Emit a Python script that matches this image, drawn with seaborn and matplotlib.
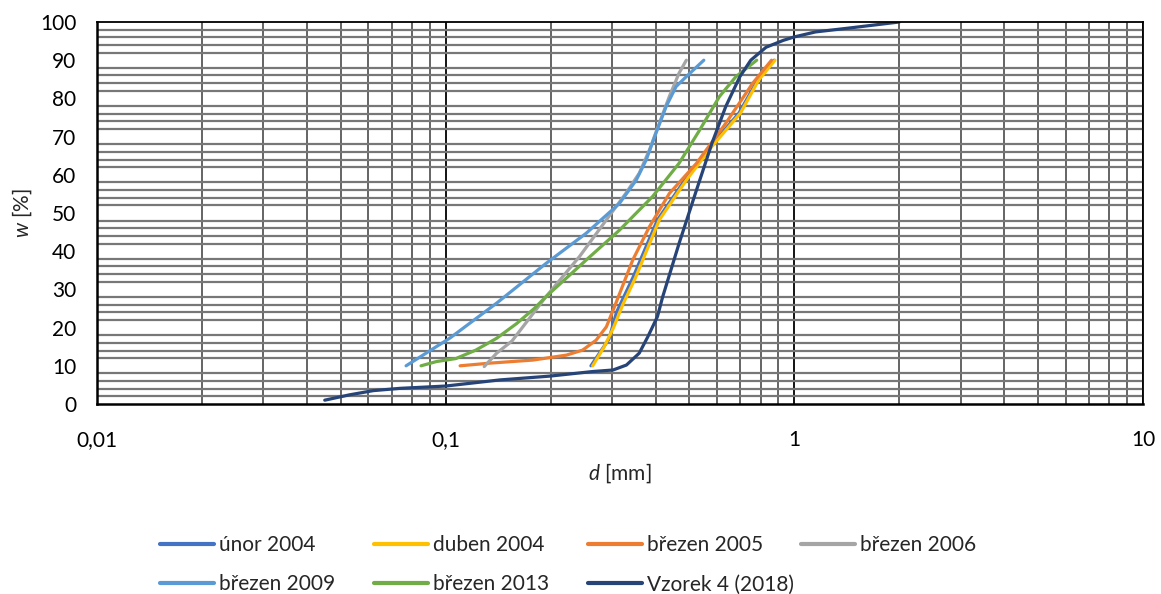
import numpy as np
import pandas as pd
import matplotlib
matplotlib.use("Agg")
import matplotlib.pyplot as plt
import seaborn as sns
from matplotlib.ticker import FixedLocator, FuncFormatter

# grain size curves, d [mm] and w [%]
unor_2004_d = [0.261, 0.294, 0.309, 0.344, 0.405, 0.485, 0.574, 0.693, 0.785, 0.875]
unor_2004_w = [10, 17, 24, 33, 48.2, 58.6, 67.4, 76.1, 84.8, 90]
duben_2004_d = [0.264, 0.285, 0.303, 0.322, 0.35, 0.41, 0.49, 0.58, 0.70, 0.79, 0.88]
duben_2004_w = [10, 15, 20, 26, 33, 48.2, 58.6, 67.4, 76.1, 84.8, 90]
brezen_2005_d = [0.11, 0.134, 0.178, 0.222, 0.247, 0.27, 0.289, 0.305, 0.344, 0.384,
                 0.438, 0.524, 0.636, 0.76, 0.86]
brezen_2005_w = [10, 10.7, 11.5, 12.8, 14.1, 16.7, 20.2, 25.5, 37.7, 46.4,
                 55.1, 63, 73.5, 84, 90]
brezen_2006_d = [0.129, 0.14, 0.155, 0.194, 0.242, 0.289, 0.329, 0.359, 0.384, 0.41,
                 0.438, 0.467, 0.49]
brezen_2006_w = [9.8, 13.3, 16.5, 28.1, 38.6, 48.2, 55.2, 60.4, 66.5, 73.5,
                 80.5, 86.6, 90]
brezen_2009_d = [0.077, 0.103, 0.14, 0.194, 0.253, 0.315, 0.352, 0.376, 0.401, 0.429,
                 0.458, 0.49, 0.55]
brezen_2009_w = [10, 17.3, 26.4, 36.8, 44.7, 52.5, 58.6, 63.9, 70.9, 77.9,
                 83.1, 85.7, 90]
brezen_2013_d = [0.085, 0.094, 0.107, 0.122, 0.14, 0.16, 0.18, 0.194, 0.253, 0.315,
                 0.392, 0.467, 0.535, 0.61, 0.68, 0.78]
brezen_2013_w = [10, 11.1, 11.9, 14.1, 17.2, 21.1, 25.1, 28.1, 37.7, 45.5,
                 54.3, 63, 71.7, 80.5, 85.7, 90]
vzorek_d = [0.045, 0.053, 0.062, 0.074, 0.10, 0.143, 0.199, 0.264, 0.302, 0.33,
            0.359, 0.38, 0.405, 0.419, 0.467, 0.524, 0.58, 0.636, 0.698, 0.75,
            0.83, 0.93, 1.0, 1.15, 1.43, 2.0]
vzorek_w = [1, 2.4, 3.5, 4.1, 4.7, 6.3, 7.3, 8.5, 8.9, 10.2,
            13.3, 17.6, 22.9, 28, 42, 56, 68.2, 77.9, 85.7, 90,
            93.4, 95.2, 96.1, 97.4, 98.4, 100]

series_names = ["únor 2004", "duben 2004", "březen 2005", "březen 2006",
                "březen 2009", "březen 2013", "Vzorek 4 (2018)"]
series_d = [unor_2004_d, duben_2004_d, brezen_2005_d, brezen_2006_d,
            brezen_2009_d, brezen_2013_d, vzorek_d]
series_w = [unor_2004_w, duben_2004_w, brezen_2005_w, brezen_2006_w,
            brezen_2009_w, brezen_2013_w, vzorek_w]
colors = ["#4472C4", "#FFC000", "#ED7D31", "#A5A5A5", "#5B9BD5", "#70AD47", "#264478"]

rows = []
for name, ds, ws in zip(series_names, series_d, series_w):
    for d, w in zip(ds, ws):
        rows.append({"serie": name, "d": d, "w": w})
df = pd.DataFrame(rows)

sns.set_theme(style="white")
plt.rcParams["font.family"] = ["Lato", "DejaVu Sans"]
plt.rcParams["mathtext.fontset"] = "custom"
plt.rcParams["mathtext.it"] = "Lato:italic"
plt.rcParams["mathtext.rm"] = "Lato"
plt.rcParams["lines.solid_capstyle"] = "round"
plt.rcParams["lines.solid_joinstyle"] = "round"

FS = 15

fig = plt.figure(figsize=(11.61, 5.94), dpi=100)
ax = fig.add_axes([97 / 1161, 1 - 404 / 594, (1143 - 97) / 1161, (404 - 22) / 594])

sns.lineplot(data=df, x="d", y="w", hue="serie", hue_order=series_names,
             palette=colors, sort=False, estimator=None, units="serie",
             linewidth=2.3, ax=ax, legend=True)

ax.set_xscale("log")
ax.set_xlim(0.01, 10)
ax.set_ylim(0, 100)

ax.xaxis.set_major_locator(FixedLocator([0.01, 0.1, 1, 10]))
ax.xaxis.set_minor_locator(FixedLocator([m * 10.0 ** e for e in (-2, -1, 0) for m in range(2, 10)]))
ax.xaxis.set_major_formatter(FuncFormatter(lambda v, p: ("%g" % v).replace(".", ",")))
ax.xaxis.set_minor_formatter(FuncFormatter(lambda v, p: ""))
ax.set_yticks(range(0, 101, 10))
ax.yaxis.set_minor_locator(FixedLocator([v for v in range(2, 100, 2) if v % 10]))

ax.grid(False)
ax.grid(True, which="major", axis="x", color="black", linewidth=1.3)
ax.grid(True, which="minor", axis="x", color="#4a4a4a", linewidth=1.2)
ax.grid(True, which="minor", axis="y", color="#777777", linewidth=1.6)
ax.set_axisbelow(True)

ax.tick_params(which="both", length=0, labelsize=FS, colors="black")
ax.tick_params(axis="x", pad=19)
ax.tick_params(axis="y", pad=15)
for side in ["left", "bottom"]:
    ax.spines[side].set_color("black")
    ax.spines[side].set_linewidth(1.8)
for side in ["top", "right"]:
    ax.spines[side].set_color("black")
    ax.spines[side].set_linewidth(1.3)

ax.set_xlabel("$\\it{d}$ [mm]", fontsize=FS, labelpad=8)
ax.set_ylabel("$\\it{w}$ [%]", fontsize=FS, labelpad=4)

handles, labels = ax.get_legend_handles_labels()
ax.get_legend().remove()
# legend laid out as Excel does: row-wise, equal column spacing
col_items = [[0, 4], [1, 5], [2, 6], [3]]
col_x = [160, 374, 588, 801]
for items, x in zip(col_items, col_x):
    leg = fig.legend([handles[i] for i in items], [labels[i] for i in items],
                     loc="upper left", bbox_to_anchor=(x / 1161, 1 - 535 / 594),
                     frameon=False, fontsize=FS, handlelength=2.6, handletextpad=0.22,
                     labelspacing=0.93, borderaxespad=0, borderpad=0)
    for h in leg.get_lines():
        h.set_linewidth(3)

fig.savefig("out.png", dpi=100)
